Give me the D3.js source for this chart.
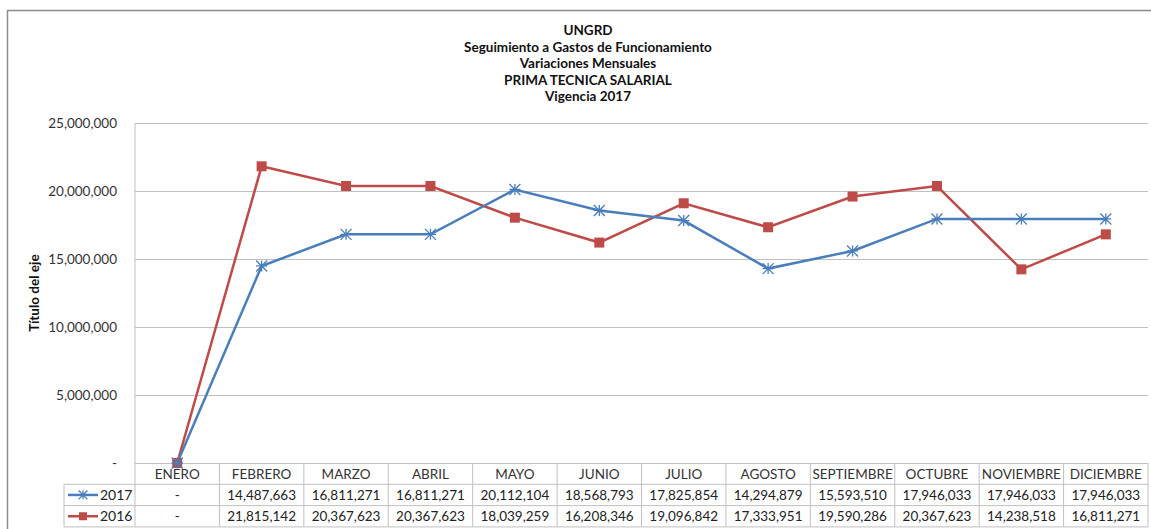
<!DOCTYPE html>
<html>
<head>
<meta charset="utf-8">
<script src="https://cdn.jsdelivr.net/npm/d3@7"></script>
<style>
  body { margin:0; background:#fff; }
  svg { display:block; font-family: Lato, "Open Sans", sans-serif; }
</style>
</head>
<body>
<div id="chart"></div>
<script>
let months = ["ENERO","FEBRERO","MARZO","ABRIL","MAYO","JUNIO","JULIO","AGOSTO","SEPTIEMBRE","OCTUBRE","NOVIEMBRE","DICIEMBRE"]
let v2017 = [0,14487663,16811271,16811271,20112104,18568793,17825854,14294879,15593510,17946033,17946033,17946033]
let v2016 = [0,21815142,20367623,20367623,18039259,16208346,19096842,17333951,19590286,20367623,14238518,16811271]
let yTicks = [0,5000000,10000000,15000000,20000000,25000000]
let titleLines = ["UNGRD","Seguimiento a Gastos  de Funcionamiento","Variaciones Mensuales","PRIMA TECNICA SALARIAL","Vigencia 2017"]

let series = [
  {name:"2017", values:v2017, color:"#4A7EBB", marker:"star"},
  {name:"2016", values:v2016, color:"#BE4B48", marker:"square"}
]

let width = 1151, height = 529,
    plotLeft = 135, plotRight = 1148, plotTop = 123, plotBottom = 463,
    rowH = 21.3, legendLeft = 64, gridColor = "#C0C0C0"

let svg = d3.select("#chart").append("svg").attr("width",width).attr("height",height)

// outer chart border
svg.append("path").attr("d",`M7.5,${height} V10.5 H${width}`).attr("fill","none").attr("stroke","#8c8c8c").attr("stroke-width",1.5)

let fmt = d => d === 0 ? "-" : d3.format(",")(d)

let xScale = d3.scaleBand().domain(months).range([plotLeft,plotRight])
let yScale = d3.scaleLinear().domain([0,25000000]).range([plotBottom,plotTop])

// title
svg.append("g").selectAll("text").data(titleLines).enter().append("text")
  .attr("x",588).attr("y",(d,i)=>35 + i*16.5)
  .attr("text-anchor","middle").attr("font-size",13.5).attr("font-weight","bold").attr("fill","#111")
  .text(d=>d)

// grid lines + y axis
let yAxis = d3.axisLeft(yScale).tickValues(yTicks).tickFormat(fmt).tickSize(-(plotRight-plotLeft)).tickPadding(18)
let yGroup = svg.append("g").attr("transform",`translate(${plotLeft},0)`).call(yAxis)
yGroup.select(".domain").remove()
yGroup.selectAll(".tick line").attr("stroke",gridColor)
yGroup.selectAll(".tick text").attr("font-size",13.5).attr("fill","#333").attr("font-family","Lato, sans-serif")

svg.append("text").attr("transform","translate(39,293) rotate(-90)")
  .attr("text-anchor","middle").attr("font-size",13.5).attr("font-weight","bold").attr("fill","#111")
  .text("Título del eje")

// data table
let t = svg.append("g").attr("stroke",gridColor).attr("stroke-width",1)
t.append("line").attr("x1",plotLeft).attr("x2",plotLeft).attr("y1",plotTop).attr("y2",plotBottom+rowH*3)
xScale.domain().forEach((m,i)=>{
  let x = xScale(m) + xScale.bandwidth()
  t.append("line").attr("x1",x).attr("x2",x).attr("y1",plotBottom).attr("y2",plotBottom+rowH*3)
})
t.append("line").attr("x1",legendLeft).attr("x2",legendLeft).attr("y1",plotBottom+rowH).attr("y2",plotBottom+rowH*3)
;[1,2,3].forEach(r=>{
  t.append("line").attr("x1",legendLeft).attr("x2",plotRight).attr("y1",plotBottom+rowH*r).attr("y2",plotBottom+rowH*r)
})

svg.append("g").selectAll("text").data(months).enter().append("text")
  .attr("x",d=>xScale(d)+xScale.bandwidth()/2).attr("y",plotBottom+15.5)
  .attr("text-anchor","middle").attr("font-size",13.5).attr("fill","#333").text(d=>d)

function drawMarker(g, x, y, s, k){
  if(s.marker==="square"){
    g.append("rect").attr("x",x-5*k).attr("y",y-5*k).attr("width",10*k).attr("height",10*k).attr("fill",s.color)
  } else {
    let r = 5.5*k
    let p = `M${x},${y-r}V${y+r}M${x-r},${y-r}L${x+r},${y+r}M${x-r},${y+r}L${x+r},${y-r}M${x-r},${y}H${x+r}`
    g.append("path").attr("d",p).attr("stroke",s.color).attr("stroke-width",1.3).attr("fill","none")
  }
}

series.forEach((s,r)=>{
  let y = plotBottom + rowH*(r+1)
  svg.append("g").selectAll("text").data(s.values).enter().append("text")
    .attr("x",(d,i)=>xScale(months[i])+xScale.bandwidth()/2).attr("y",y+15.5)
    .attr("text-anchor","middle").attr("font-size",13.5).attr("fill","#222").text(d=>fmt(d))
  let lg = svg.append("g").attr("transform",`translate(0,${y+rowH/2})`)
  lg.append("line").attr("x1",68).attr("x2",98).attr("stroke",s.color).attr("stroke-width",2.5)
  drawMarker(lg, 83, 0, s, 0.8)
  lg.append("text").attr("x",100).attr("y",5).attr("font-size",14).attr("fill","#222").text(s.name)
})

// lines
let line = d3.line().x((d,i)=>xScale(months[i])+xScale.bandwidth()/2).y(d=>yScale(d))
series.slice().reverse().forEach(s=>{
  svg.append("path").attr("d",line(s.values)).attr("fill","none").attr("stroke",s.color).attr("stroke-width",2.5)
})
series.slice().reverse().forEach(s=>{
  let mg = svg.append("g")
  s.values.forEach((d,i)=>drawMarker(mg, xScale(months[i])+xScale.bandwidth()/2, yScale(d), s, 1))
})
</script>
</body>
</html>
